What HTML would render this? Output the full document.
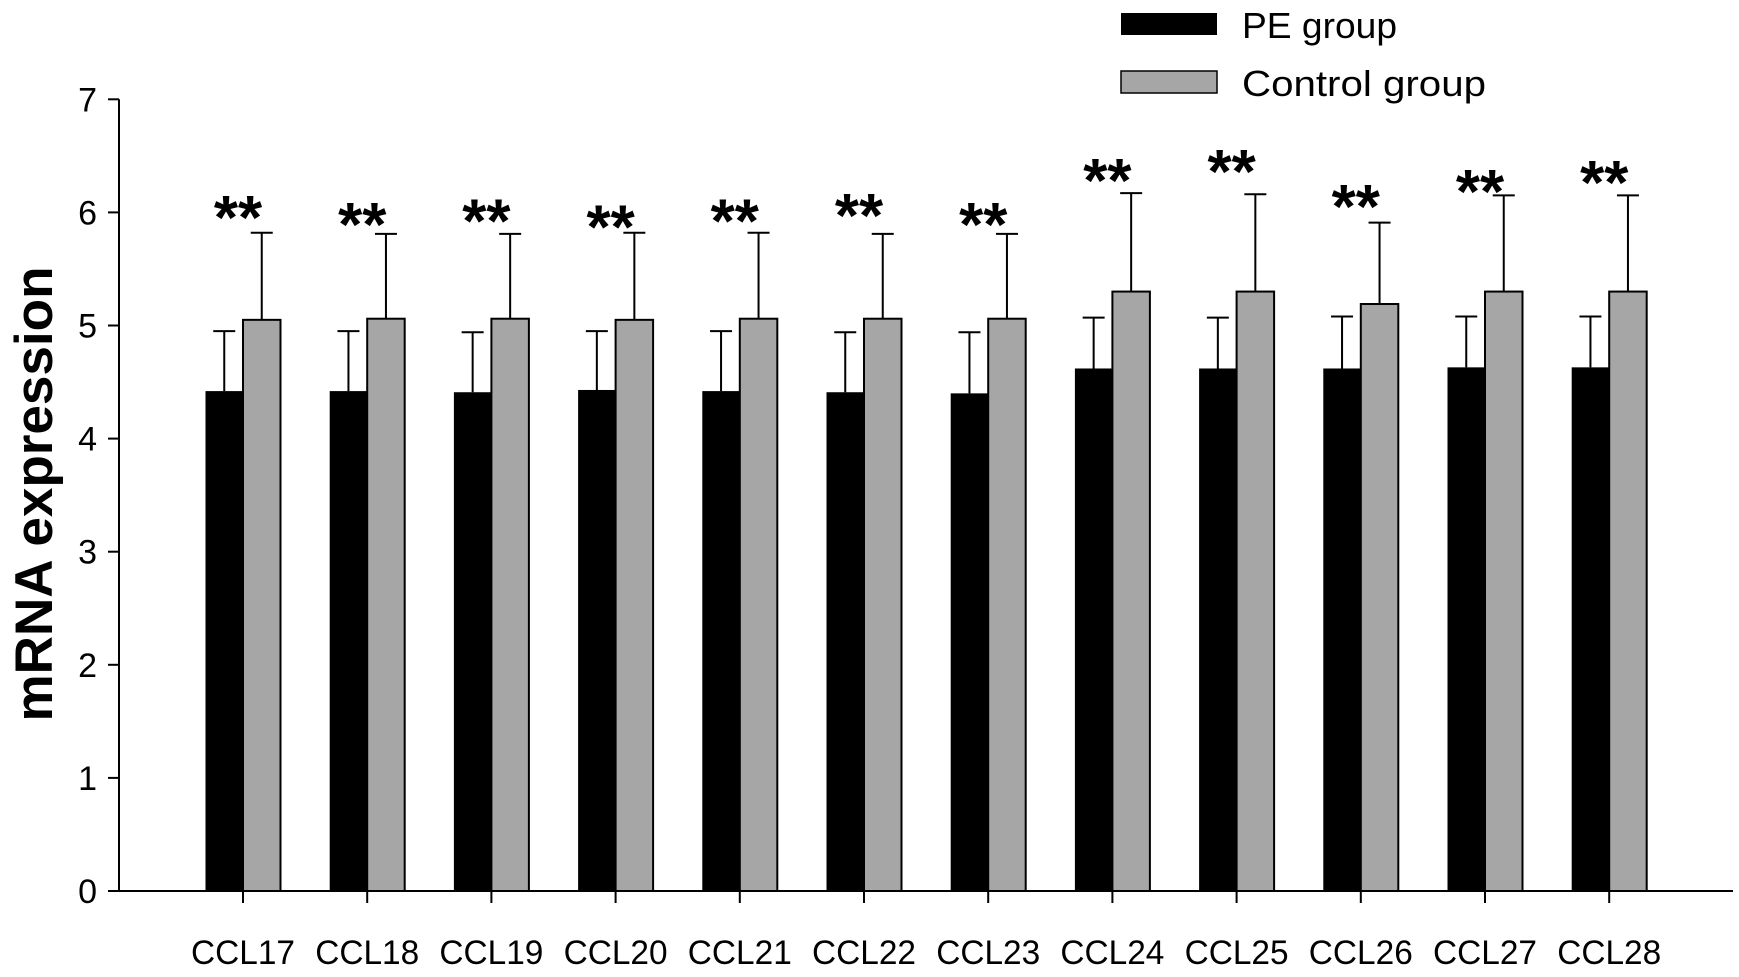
<!DOCTYPE html>
<html><head><meta charset="utf-8"><style>
html,body{margin:0;padding:0;background:#fff;}
svg{display:block;font-family:"Liberation Sans",sans-serif;}
</style></head><body>
<svg id="chart" width="1739" height="977" viewBox="0 0 1739 977">
<g id="legend">
 <rect x="1121" y="13" width="96" height="22" fill="#000"/>
 <text x="1242" y="38" font-size="36" textLength="155" lengthAdjust="spacingAndGlyphs">PE group</text>
 <rect x="1121" y="71" width="96" height="22" fill="#a6a6a6" stroke="#000" stroke-width="1.5"/>
 <text x="1242" y="96" font-size="36" textLength="244" lengthAdjust="spacingAndGlyphs">Control group</text>
</g>
<text transform="translate(52,494) rotate(-90)" text-anchor="middle" font-size="53" font-weight="bold" textLength="455" lengthAdjust="spacingAndGlyphs">mRNA expression</text>
<g id="axes"></g>
<g id="bars"></g>
</svg>
<script>
const categories=["CCL17","CCL18","CCL19","CCL20","CCL21","CCL22","CCL23","CCL24","CCL25","CCL26","CCL27","CCL28"];
const peValues=[4.42,4.42,4.41,4.43,4.42,4.41,4.40,4.62,4.62,4.62,4.63,4.63];
const peErrTop=[4.95,4.95,4.94,4.95,4.95,4.94,4.94,5.07,5.07,5.08,5.08,5.08];
const controlValues=[5.05,5.06,5.06,5.05,5.06,5.06,5.06,5.30,5.30,5.19,5.30,5.30];
const controlErrTop=[5.82,5.81,5.81,5.82,5.82,5.81,5.81,6.17,6.16,5.91,6.15,6.15];
const starLevels=[6.09,6.03,6.06,6.01,6.06,6.11,6.03,6.42,6.50,6.19,6.32,6.40];
const yTicks=[0,1,2,3,4,5,6,7];

const NS="http://www.w3.org/2000/svg";
const y0=891,unit=113.1,x0=119,xEnd=1733;
const yS=v=>y0-v*unit;
const xC=i=>243+i*124.2;
const bw=37.5;
function mk(tag,attrs,parent){const e=document.createElementNS(NS,tag);for(const k in attrs)e.setAttribute(k,attrs[k]);parent.appendChild(e);return e;}
const axes=document.getElementById('axes'),bars=document.getElementById('bars');

yTicks.forEach(t=>{
 const l=mk('line',{x1:108,x2:x0,y1:yS(t),y2:yS(t),stroke:'#000','stroke-width':2},axes);
 
 
 const tx=mk('text',{x:97,y:yS(t)+12,'text-anchor':'end','font-size':34},axes);
 tx.textContent=t;
 
 
});

categories.forEach((c,i)=>{
 const cx=xC(i);
 const g=mk('g',{},bars);
 
 
 const b1=mk('rect',{x:cx-bw,y:yS(peValues[i]),width:bw,height:yS(0)-yS(peValues[i]),fill:'#000'},g);
 
 
 const b2=mk('rect',{x:cx,y:yS(controlValues[i]),width:bw,height:yS(0)-yS(controlValues[i]),fill:'#a6a6a6',stroke:'#000','stroke-width':2},g);
 
 
 const w1=cx-bw/2,w2=cx+bw/2;
 const e1=mk('path',{d:`M${w1},${yS(peValues[i])}V${yS(peErrTop[i])}M${w1-11},${yS(peErrTop[i])}H${w1+11}`,stroke:'#000','stroke-width':2,fill:'none'},g);
 
 
 const e2=mk('path',{d:`M${w2},${yS(controlValues[i])}V${yS(controlErrTop[i])}M${w2-11},${yS(controlErrTop[i])}H${w2+11}`,stroke:'#000','stroke-width':2,fill:'none'},g);
 
 
 const s=mk('text',{x:cx-5,y:yS(starLevels[i])+37,'text-anchor':'middle','font-size':62,'font-weight':'bold'},g);
 s.textContent='**';
 
 
 const tk=mk('line',{x1:cx,x2:cx,y1:y0,y2:y0+12,stroke:'#000','stroke-width':2},axes);
 
 
 const lb=mk('text',{x:cx,y:964,'text-anchor':'middle','font-size':34,textLength:104,lengthAdjust:'spacingAndGlyphs'},axes);
 lb.textContent=c;
 
 
});
const ya=mk('line',{x1:x0,x2:x0,y1:yS(7),y2:y0,stroke:'#000','stroke-width':2},axes);


const xa=mk('line',{x1:108,x2:xEnd,y1:y0,y2:y0,stroke:'#000','stroke-width':2},axes);


</script>
</body></html>
